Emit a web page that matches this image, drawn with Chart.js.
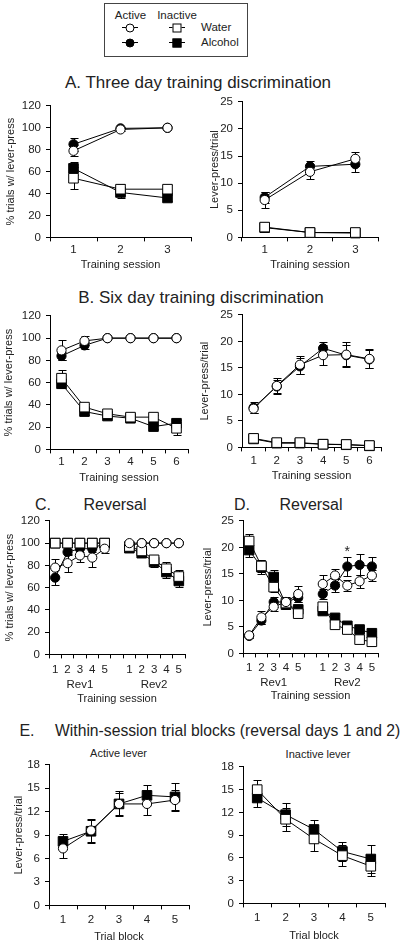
<!DOCTYPE html>
<html><head><meta charset="utf-8">
<script src="https://cdn.jsdelivr.net/npm/chart.js@4.4.0/dist/chart.umd.min.js"></script>
<style>
html,body{margin:0;padding:0;background:#fff;}
#page{position:relative;width:404px;height:943px;overflow:hidden;font-family:"Liberation Sans",Arial,sans-serif;color:#222;}
canvas{position:absolute;}
.t{position:absolute;white-space:nowrap;line-height:1;transform:translate(-50%,-50%);}
.tl{position:absolute;white-space:nowrap;line-height:1;transform:translate(0,-50%);}
.box{position:absolute;border:1px solid #444;box-sizing:border-box;}
.ln{position:absolute;height:1px;background:#000;}
.mk{position:absolute;width:9px;height:9px;border:1px solid #000;box-sizing:border-box;transform:translate(-50%,-50%);}
</style></head><body><div id="page"></div>
<script>
// ---------- categories / tick labels ----------
const catA = ['1','2','3'];
const catB = ['1','2','3','4','5','6'];
const catRev = ['1','2','3','4','5','','1','2','3','4','5'];
const revGroups = ['','','Rev1','','','','','','Rev2','',''];
const catE = ['1','2','3','4','5'];

// ---------- A. three day (left: % trials, right: lever-press/trial) ----------
const aL_waterActive = [79, 98.5, 100];   const aL_waterActiveErr = [5, 1, 0];
const aL_alcActive   = [85, 99.5, 100];   const aL_alcActiveErr   = [6, 1, 0];
const aL_waterInact  = [54, 44, 44];      const aL_waterInactErr  = [10, 5, 4];
const aL_alcInact    = [63, 41, 36];      const aL_alcInactErr    = [6, 5, 3];

const aR_waterActive = [6.9, 12.1, 14.5]; const aR_waterActiveErr = [1.5, 1.4, 1.3];
const aR_alcActive   = [7.4, 13.1, 13.5]; const aR_alcActiveErr   = [1.0, 1.0, 1.4];
const aR_waterInact  = [1.9, 0.9, 0.9];   const aR_waterInactErr  = [0.2, 0.1, 0.1];
const aR_alcInact    = [1.8, 0.9, 0.8];   const aR_alcInactErr    = [0.2, 0.1, 0.1];

// ---------- B. six day ----------
const bL_waterActive = [89, 97.5, 100, 100, 100, 100]; const bL_waterActiveErr = [9, 4, 0, 0, 0, 0];
const bL_alcActive   = [84, 93.5, 100, 100, 100, 100]; const bL_alcActiveErr   = [4, 3, 0, 0, 0, 0];
const bL_waterInact  = [64, 38, 32, 29, 29, 19];       const bL_waterInactErr  = [7, 3, 2, 2, 2, 6];
const bL_alcInact    = [59, 34, 30, 28, 20.5, 23.5];   const bL_alcInactErr    = [4, 3, 2, 2, 2, 3];

const bR_waterActive = [7.3, 11.6, 15.6, 17.4, 17.5, 16.7]; const bR_waterActiveErr = [0.9, 1.5, 1.7, 1.9, 2.3, 1.8];
const bR_alcActive   = [7.5, 11.5, 15.3, 18.7, 17.4, 16.6]; const bR_alcActiveErr   = [1.0, 1.3, 1.5, 1.2, 2.0, 1.7];
const bR_waterInact  = [1.7, 0.9, 0.9, 0.6, 0.55, 0.35];    const bR_waterInactErr  = [0.2, 0.1, 0.1, 0.1, 0.1, 0.1];
const bR_alcInact    = [1.6, 0.8, 0.8, 0.6, 0.5, 0.3];      const bR_alcInactErr    = [0.2, 0.1, 0.1, 0.1, 0.1, 0.1];

// ---------- C. Reversal (% trials) ----------
const c_waterActive = [78, 82, 89, 87, 95, null, 100, 100, 100, 100, 100];
const c_waterActiveErr = [8, 8, 6, 8, 4, null, 0, 0, 0, 0, 0];
const c_alcActive   = [69, 92, 95, 95, 100, null, 98, 100, 100, 100, 100];
const c_alcActiveErr   = [7, 3, 3, 3, 1, null, 2, 0, 0, 0, 0];
const c_waterInact  = [100, 100, 100, 100, 100, null, 97, 93, 85, 77, 70];
const c_waterInactErr  = [0, 0, 0, 0, 0, null, 2, 3, 4, 6, 6];
const c_alcInact    = [100, 100, 100, 100, 100, null, 95.5, 91, 83, 74, 66];
const c_alcInactErr    = [0, 0, 0, 0, 0, null, 3, 3, 4, 5, 5];

// ---------- D. Reversal (lever-press/trial) ----------
const d_waterActive = [3.4, 6.8, 8.8, 9.7, 11.2, null, 13.1, 14.7, 12.8, 13.6, 14.7];
const d_waterActiveErr = [0.4, 1.2, 0.8, 0.8, 1.5, null, 1.6, 1.3, 1.0, 1.2, 1.0];
const d_alcActive   = [3.3, 6.2, 9.7, 9.7, 10.5, null, 11.2, 12.8, 16.4, 16.7, 16.4];
const d_alcActiveErr   = [0.3, 0.6, 0.9, 0.9, 0.8, null, 1.0, 1.2, 1.8, 2.0, 1.7];
const d_waterInact  = [21.2, 16.5, 12.5, 9.5, 7.5, null, 8.8, 5.4, 4.5, 2.6, 2.2];
const d_waterInactErr  = [1.3, 1.2, 1.0, 0.8, 0.6, null, 0.8, 0.5, 0.4, 0.3, 0.3];
const d_alcInact    = [19.5, 16.3, 14.4, 9.2, 8.3, null, 8.0, 6.7, 5.2, 4.5, 3.8];
const d_alcInactErr    = [1.4, 1.3, 1.3, 0.9, 0.7, null, 0.6, 0.5, 0.4, 0.5, 0.5];
const d_stars = [{index: 8, value: 19.6, text: '*'}];

// ---------- E. Within-session trial blocks ----------
const eL_water = [7.3, 9.6, 13.0, 13.0, 13.5];  const eL_waterErr = [1.2, 1.5, 1.6, 1.4, 1.3];
const eL_alc   = [8.2, 9.5, 13.0, 14.1, 13.9];  const eL_alcErr   = [1.0, 1.5, 1.4, 1.3, 1.8];
const eR_water = [15.0, 11.1, 8.5, 6.3, 4.9];   const eR_waterErr = [1.3, 1.5, 1.6, 1.4, 1.3];
const eR_alc   = [13.9, 11.7, 9.75, 6.85, 5.85]; const eR_alcErr  = [1.2, 1.5, 1.2, 1.3, 1.9];

// ---------- rendering ----------
const FONT = '"Liberation Sans", Arial, sans-serif';
const TXT = '#222';
const page = document.getElementById('page');

function txt(s, cx, cy, size, cls){
  const d = document.createElement('div');
  d.className = cls || 't';
  d.textContent = s;
  d.style.left = cx + 'px'; d.style.top = cy + 'px'; d.style.fontSize = size + 'px';
  page.appendChild(d); return d;
}
function el(cls, css){ const d = document.createElement('div'); d.className = cls; Object.assign(d.style, css); page.appendChild(d); return d; }

// Legend
el('box', {left:'104px', top:'3px', width:'144px', height:'54px'});
txt('Active', 130.5, 15.5, 11.5);
txt('Inactive', 177, 15.5, 11.5);
txt('Water', 201, 27.5, 11.5, 'tl');
txt('Alcohol', 201, 42.5, 11.5, 'tl');
[[130,27,'50%','#fff'],[130,42,'50%','#000'],[177,27,'0','#fff'],[177,42,'0','#000']].forEach(m=>{
  el('ln', {left:(m[0]-8)+'px', top:m[1]+'px', width:'16px'});
  el('mk', {left:m[0]+'px', top:(m[1]+0.5)+'px', borderRadius:m[2], background:m[3]});
});

// Titles
txt('A. Three day training discrimination', 198, 82, 17);
txt('B. Six day training discrimination', 201, 297, 17);
txt('C.', 43, 505, 16); txt('Reversal', 115, 505, 16);
txt('D.', 242, 505, 16); txt('Reversal', 311, 505, 16);
txt('E.', 27, 731, 16); txt('Within-session trial blocks (reversal days 1 and 2)', 55, 731, 15.7, 'tl');
txt('Active lever', 118.5, 753, 11);
txt('Inactive lever', 318, 754, 11);

const STY = {
  oc: {pointStyle:'circle', pointRadius:4.6, pointBackgroundColor:'#fff'},
  fc: {pointStyle:'circle', pointRadius:4.6, pointBackgroundColor:'#000'},
  os: {pointStyle:'rect', pointRadius:6.8, pointBackgroundColor:'#fff'},
  fs: {pointStyle:'rect', pointRadius:6.8, pointBackgroundColor:'#000'}
};
function series(data, err, sty){
  return Object.assign({data:data, err:err, borderColor:'#000', borderWidth:1, pointBorderColor:'#000',
    pointBorderWidth:1, tension:0, spanGaps:false, fill:false, clip:false}, STY[sty]);
}

const errPlugin = {
  id:'errbars',
  beforeDatasetsDraw(chart){
    const ctx = chart.ctx, ys = chart.scales.y;
    chart.data.datasets.forEach((ds,i)=>{
      if(!ds.err) return;
      const meta = chart.getDatasetMeta(i);
      ctx.save(); ctx.strokeStyle = '#000'; ctx.lineWidth = 1;
      meta.data.forEach((pt,j)=>{
        const v = ds.data[j], e = ds.err[j];
        if(v == null || e == null || e <= 0) return;
        const x = Math.round(pt.x) + 0.5;
        const y1 = Math.round(ys.getPixelForValue(v+e)) + 0.5, y2 = Math.round(ys.getPixelForValue(v-e)) + 0.5;
        ctx.beginPath();
        ctx.moveTo(x,y1); ctx.lineTo(x,y2);
        ctx.moveTo(x-4,y1); ctx.lineTo(x+4,y1);
        ctx.moveTo(x-4,y2); ctx.lineTo(x+4,y2);
        ctx.stroke();
      });
      ctx.restore();
    });
  }
};
const starPlugin = {
  id:'stars',
  afterDatasetsDraw(chart, args, opts){
    if(!opts.items) return;
    const ctx = chart.ctx;
    ctx.save(); ctx.fillStyle = TXT; ctx.font = '14px ' + FONT; ctx.textAlign = 'center'; ctx.textBaseline = 'middle';
    opts.items.forEach(s=>{
      ctx.fillText(s.text, chart.scales.x.getPixelForValue(s.index), chart.scales.y.getPixelForValue(s.value) + 3);
    });
    ctx.restore();
  }
};

function panel(p){
  const padT = 10, padR = 8;
  const W = Math.round(p.yW + (p.r - p.l) + padR);
  const xs = p.xH.reduce((a,b)=>a+b,0);
  const H = Math.round(padT + (p.b - p.t) + xs);
  const cv = document.createElement('canvas');
  cv.width = W; cv.height = H;
  cv.style.left = (p.l - p.yW) + 'px'; cv.style.top = (p.t - padT) + 'px';
  page.appendChild(cv);
  const tickFont = {family:FONT, size:11.5};
  const titleFont = {family:FONT, size:11};
  const scales = {
    y: {min:p.ymin, max:p.ymax,
      ticks:{stepSize:p.step, font:tickFont, color:TXT, padding:5},
      grid:{drawOnChartArea:false, tickLength:4, color:'#000', lineWidth:1},
      border:{color:'#000', width:1},
      title:{display:!!p.yTitle, text:p.yTitle || '', font:titleFont, color:TXT, padding:{top:p.yTitlePad, bottom:0}},
      afterFit(s){ s.width = p.yW; }
    },
    x: {type:'category', offset:true, weight:0,
      grid:{offset:true, drawOnChartArea:false, tickLength:4, color:'#000', lineWidth:1},
      border:{color:'#000', width:1},
      ticks:{autoSkip:false, maxRotation:0, minRotation:0, padding:p.xPad, font:tickFont, color:TXT},
      title:{display:!p.groups, text:p.xTitle, font:titleFont, color:TXT, padding:{top:0, bottom:0}},
      afterFit(s){ s.height = p.xH[0]; }
    }
  };
  if(p.groups){
    scales.x2 = {type:'category', labels:p.groups, position:'bottom', offset:true, weight:1,
      grid:{display:false, drawTicks:false, offset:true}, border:{display:false},
      ticks:{autoSkip:false, maxRotation:0, minRotation:0, padding:p.x2Pad, font:tickFont, color:TXT},
      title:{display:true, text:p.xTitle, font:titleFont, color:TXT, padding:{top:0, bottom:0}},
      afterFit(s){ s.height = p.xH[1]; }
    };
  }
  return new Chart(cv, {
    type:'line',
    data:{labels:p.labels, datasets:p.datasets},
    options:{responsive:false, animation:false, devicePixelRatio:1, events:[],
      layout:{padding:{top:padT, right:padR, left:0, bottom:0}},
      plugins:{legend:{display:false}, tooltip:{enabled:false}, stars:{items:p.stars || null}},
      scales:scales},
    plugins:[errPlugin, starPlugin]
  });
}

// A left
panel({l:50, r:191, t:104, b:237, yW:50, xH:[34.6], xPad:2, ymin:0, ymax:120, step:20,
  yTitle:'% trials w/ lever-press', yTitlePad:4.4, xTitle:'Training session', labels:catA,
  datasets:[series(aL_waterActive, aL_waterActiveErr, 'oc'), series(aL_waterInact, aL_waterInactErr, 'os'),
            series(aL_alcActive, aL_alcActiveErr, 'fc'), series(aL_alcInact, aL_alcInactErr, 'fs')]});
// A right
panel({l:242, r:378, t:100, b:237, yW:50, xH:[34.6], xPad:2, ymin:0, ymax:25, step:5,
  yTitle:'Lever-press/trial', yTitlePad:16.4, xTitle:'Training session', labels:catA,
  datasets:[series(aR_waterActive, aR_waterActiveErr, 'oc'), series(aR_waterInact, aR_waterInactErr, 'os'),
            series(aR_alcActive, aR_alcActiveErr, 'fc'), series(aR_alcInact, aR_alcInactErr, 'fs')]});
// B left
panel({l:50, r:188, t:314, b:449, yW:50, xH:[35.6], xPad:2, ymin:0, ymax:120, step:20,
  yTitle:'% trials w/ lever-press', yTitlePad:2.4, xTitle:'Training session', labels:catB,
  datasets:[series(bL_waterActive, bL_waterActiveErr, 'oc'), series(bL_waterInact, bL_waterInactErr, 'os'),
            series(bL_alcActive, bL_alcActiveErr, 'fc'), series(bL_alcInact, bL_alcInactErr, 'fs')]});
// B right
panel({l:242, r:381, t:313, b:447, yW:50, xH:[35.6], xPad:3, ymin:0, ymax:25, step:5,
  yTitle:'Lever-press/trial', yTitlePad:6.4, xTitle:'Training session', labels:catB,
  datasets:[series(bR_waterActive, bR_waterActiveErr, 'oc'), series(bR_waterInact, bR_waterInactErr, 'os'),
            series(bR_alcActive, bR_alcActiveErr, 'fc'), series(bR_alcInact, bR_alcInactErr, 'fs')]});
// C
panel({l:49, r:185, t:519, b:654, yW:49, xH:[22, 29.6], xPad:4.1, x2Pad:1.1, ymin:0, ymax:120, step:20,
  yTitle:'% trials w/ lever-press', yTitlePad:3.4, xTitle:'Training session', labels:catRev, groups:revGroups,
  datasets:[series(c_waterActive, c_waterActiveErr, 'oc'), series(c_waterInact, c_waterInactErr, 'os'),
            series(c_alcActive, c_alcActiveErr, 'fc'), series(c_alcInact, c_alcInactErr, 'fs')]});
// D
panel({l:243, r:378, t:519, b:653, yW:50, xH:[21, 28.6], xPad:3.1, x2Pad:1.1, ymin:0, ymax:25, step:5,
  yTitle:'Lever-press/trial', yTitlePad:8.4, xTitle:'Training session', labels:catRev, groups:revGroups, stars:d_stars,
  datasets:[series(d_waterActive, d_waterActiveErr, 'oc'), series(d_waterInact, d_waterInactErr, 'os'),
            series(d_alcActive, d_alcActiveErr, 'fc'), series(d_alcInact, d_alcInactErr, 'fs')]});
// E left
panel({l:49, r:189, t:763, b:905, yW:49, xH:[38.6], xPad:3.1, ymin:0, ymax:18, step:3,
  yTitle:'Lever-press/trial', yTitlePad:12.4, xTitle:'Trial block', labels:catE,
  datasets:[series(eL_water, eL_waterErr, 'oc'), series(eL_alc, eL_alcErr, 'fs')]});
// E right
panel({l:243, r:385, t:765, b:903, yW:50, xH:[39.6], xPad:3.1, ymin:0, ymax:18, step:3,
  yTitle:'', yTitlePad:0, xTitle:'Trial block', labels:catE,
  datasets:[series(eR_water, eR_waterErr, 'os'), series(eR_alc, eR_alcErr, 'fs')]});
</script></body></html>
